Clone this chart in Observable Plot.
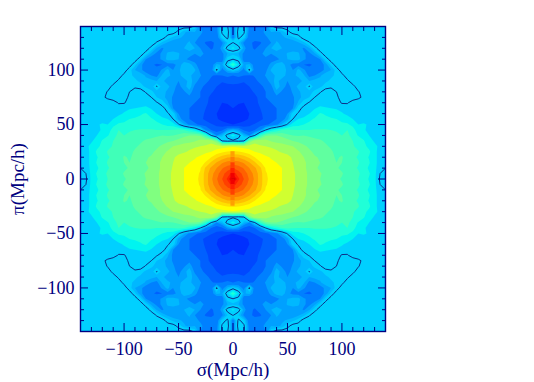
<!DOCTYPE html>
<html><head><meta charset="utf-8">
<script src="https://cdn.jsdelivr.net/npm/d3@7"></script>
<script src="https://cdn.jsdelivr.net/npm/@observablehq/plot@0.6"></script>
<style>html,body{margin:0;background:#fff}svg{display:block}</style>
</head><body><div id="chart"></div>
<script>
const gridStep = 5;
const background = 6.5;
const contourLevel = 6;
const levels = [0,1,2,3,4,4.6,5.2,7,8,9,10,11,12,13,14,15,16,17,18,19,20,21,22,23];
const levelColors = ["#0030ff","#0048ff","#0060ff","#0080ff","#00a0ff","#00b8ff","#00d0ff","#00f4f0","#20ffd8","#40ffb8","#60ffa0","#80ff80","#a0ff60","#d0ff30","#ffff00","#ffe000","#ffc000","#ffa000","#ff8000","#ff6000","#ff4000","#ff2000","#f00000","#a00000"];
// One quadrant: rows pi = 140,135,...,0; columns sigma = 0,5,...,140 (short rows end in the flat background)
const quadrant = [
[3.5,6.1,6.1,3.8,3.4,3.6,4,5.7],
[3.5,6.5,6.2,3.6,3.4,3.7,4.2,4.6,4.4,4.7,5.7],
[3.5,6.3,5.5,3.4,3.2,3.4,3.9,4.2,4.4,4.5,4.7,5,5.6],
[6.1,5.2,3.8,3.1,2.9,2.9,3.4,4,4.7,4.4,4.2,4.2,4.5,5,5.9],
[7.2,6.6,4.4,3.2,2.9,3.3,4,4.6,4.9,4.6,4.1,4,4.3,3.9,4.5,5.7],
[5,4.6,3.8,3.3,3.3,3.8,4.3,4,4.3,4.1,4.7,5,4.7,4.1,3.8,4.4,5.6],
[6,5.6,3.5,3.2,3.5,3.8,3.8,3.7,3.8,4.2,4.6,4.8,4.8,4.2,3.6,3.5,4,5.5],
[8.8,6.8,4.5,4.8,3.5,3.3,3.6,4.2,4.9,5,4.2,3.8,3.7,3,2.9,3.1,3.6,4.2,5.4],
[5.5,4.8,3.6,6.3,3.4,3.3,3.8,4.7,4.7,5.2,4.4,4,4.8,4.2,3.2,3.2,3.6,4.2,4.6,5.5],
[3,3.2,3,2.8,3.1,3.4,4.1,4.2,4.8,4.9,4.4,4.4,4.8,4.7,3.8,4,4.5,5,5,5.4,5.7],
[2.3,2.5,2.2,2.4,2.8,3.2,3.6,4.4,4.8,4.3,4,4,4.2,4.8,4.6,4.8,4.8,5,5.4,5.6,5.6,5.8],
[1.8,1.5,1.4,2,2.4,2.8,3.2,3.8,5,4.3,3.8,4.2,4.8,4.8,6.1,4.7,5,5.6,5.8,5.5,5.4,5.5,5.7],
[1.6,1.4,1.2,1.6,2.2,2.5,3,3.5,4.4,3.9,3.6,4.1,4.4,5,4.8,5.4,5.9,6.5,6.5,6,5.5,5.4,5.5,5.9],
[1.4,1.2,1.2,1.1,1.6,2.5,3,3.2,3.8,3.6,3.6,3.9,4.4,4.8,5.2,6,6.5,6.5,6.5,6.2,5.6,5.4,5.4,5.8,6.2],
[1.3,1.1,1,1.4,1.7,2.2,2.8,3,3.2,3.5,3.3,3.8,4.7,5.6,6.1,6.5,6.5,6.5,6.5,6.4,5.9,5.9],
[1,0.7,0.8,1.2,1.6,2,2.3,2.6,3,3.3,3.6,4,5.6,6.3,6.6,6.9,7.3,7.1,7,6.9,6.7],
[0.6,0.5,0.6,1,1.5,1.9,2.2,2.6,3,3.5,4,5.6,6.1,6.8,7,7.6,8.1,7.9,7.7,7.4,7.1,6.8,6.6],
[0.5,0.5,0.7,1.1,1.4,1.8,2.2,2.6,3,3.6,4.4,6,7,7.1,7.8,8.1,8.2,8.2,8.1,8,7.7,7.4,7,6.8,6.7,6.6],
[1,1.2,1.5,1.8,2.1,2.5,2.8,3.2,3.8,4.8,6.2,7.5,7.6,8,8.2,8.3,8.4,8.4,8.5,8.4,8.2,8.2,7.6,7,7.1,6.9,6.6],
[4.8,4.2,2.8,2.4,3,4,6,7.5,8.3,9,9.2,9.1,9,9,9,9.1,9.1,9.1,9,8.9,8.7,9,8.6,7.2,7.1,6.8,6.6],
[7.4,6.5,5,4,6,9,10.8,11,11,10.8,10.2,10,9.9,10,9.9,9.8,9.7,9.5,9.3,9.2,9,9.2,8.7,7.9,7.5,7,6.7],
[5.8,5.5,5.9,11,12.7,12.6,12.4,11.9,11.6,11.5,11.4,11,10.8,10.5,10.3,10.2,10.1,9.9,9.6,9.4,9.3,9.1,9,8.7,8.1,7.3,6.9,6.6],
[13.8,13.7,13.6,13.5,13.3,13.1,13,12.9,12.8,12.5,12.2,12,11.6,11.2,10.8,10.5,10.2,10.1,9.9,9.6,9.5,9.3,9.1,8.7,8.3,7.7,7.2,6.8],
[15.2,15.1,14.8,14.4,14,13.8,13.5,13.3,13.1,12.9,12.8,12.5,12.1,11.7,11.2,10.8,10.6,10.3,10.1,9.8,9.8,9.4,9.1,9.1,8.4,8.2,7.2,6.7],
[17,16.9,16.4,15.8,15,14.5,14.2,13.9,13.7,13.5,13.2,12.9,12.4,12,11.5,11.1,10.9,10.4,10.2,9.9,10.1,9.5,9.2,8.9,8.5,7.9,7.2,6.7],
[18.5,18.4,17.9,17.1,16.2,15.1,14.6,14.2,14,13.9,13.3,13,12.5,12.2,11.7,11.2,11,10.6,10.3,10,10,9.5,9.2,9.1,8.5,8.1,7.2,6.7],
[20,19.5,18.9,18,17.2,16.2,14.9,14.5,14.2,14,13.5,13.1,12.6,12.2,11.7,11.2,10.8,10.6,10.4,10.1,9.8,9.5,9.3,8.9,8.5,7.8,7.2,6.6,6],
[21.5,20.5,19.6,18.6,17.6,16.5,15.1,14.7,14.3,14,13.6,13.2,12.7,12.3,11.8,11.3,11.1,10.7,10.5,10.2,10.1,9.6,9.3,9.2,8.5,8.1,7.3,6,5.7],
[24,21.2,20,18.9,17.8,16.5,15.2,14.7,14.3,14,13.6,13.2,12.7,12.3,11.8,11.3,11,10.7,10.5,10.2,9.9,9.6,9.3,9,8.5,7.9,7.3,5.8,5.5]
];
// Narrow bright streak along the line of sight
const spikeTops = [5,10,15,20,25];
const spikeValues = [22,21,20,18.5,17];
const majorTicks = [-100,-50,0,50,100];
const minorTicks = [-130,-120,-110,-90,-80,-70,-60,-40,-30,-20,-10,10,20,30,40,60,70,80,90,110,120,130];

const n = quadrant.length;
const size = 2*n-1;
const cell = (r,c) => { const row = quadrant[r]; return c < row.length ? row[c] : background; };
const grid = [];
for (let j=0;j<size;j++) for (let i=0;i<size;i++) grid.push(cell(j<n?j:2*n-2-j, Math.abs(i-(n-1))));
const half = (n-1)*gridStep + gridStep/2;
const gridOpts = {width:size,height:size,x1:-half,x2:half,y1:half,y2:-half,value:d=>d,clip:true};
const spike = [];
spikeTops.forEach((t,i)=>{const b=i?spikeTops[i-1]:0;spike.push({y1:b,y2:t,v:spikeValues[i]},{y1:-t,y2:-b,v:spikeValues[i]});});

const navy = "#000080";
const font = "'Liberation Serif',serif";
const fmt = d=>String(d).replace("-","−");
const chart = Plot.plot({
  width:534,height:382,marginLeft:80,marginRight:149,marginTop:26,marginBottom:51,
  style:{fontFamily:font,fontSize:"18px",color:navy,background:"#fff",overflow:"visible"},
  x:{domain:[-140,140]},y:{domain:[-140,140]},
  color:{type:"threshold",domain:levels.slice(1),range:levelColors},
  marks:[
    Plot.contour(grid,{...gridOpts,thresholds:levels,fill:"value",stroke:"none"}),
    Plot.rect(spike,{x1:()=>-1.9,x2:()=>1.9,y1:"y1",y2:"y2",fill:"v"}),
    Plot.contour(grid,{...gridOpts,thresholds:[contourLevel],fill:"none",stroke:"#101c78",strokeWidth:0.9}),
    Plot.frame({stroke:navy,strokeWidth:1.4}),
    Plot.axisX(majorTicks,{anchor:"bottom",tickSize:0,tickPadding:11,label:null,fill:navy,fontSize:18,tickFormat:fmt}),
    Plot.axisY(majorTicks,{anchor:"left",tickSize:0,tickPadding:6,label:null,fill:navy,fontSize:18,tickFormat:fmt}),
    Plot.axisX({anchor:"bottom",ticks:[],label:"σ(Mpc/h)",labelAnchor:"center",labelOffset:44,labelArrow:"none",fill:navy,fontSize:19,letterSpacing:1.7}),
    Plot.axisY({anchor:"left",ticks:[],label:"π(Mpc/h)",labelAnchor:"center",labelOffset:70,labelArrow:"none",fill:navy,fontSize:19,letterSpacing:1.7}),
    ...["bottom","top"].flatMap(a=>[
      Plot.axisX(majorTicks,{anchor:a,tickSize:-8,text:null,label:null,stroke:navy}),
      Plot.axisX(minorTicks,{anchor:a,tickSize:-4,text:null,label:null,stroke:navy})]),
    ...["left","right"].flatMap(a=>[
      Plot.axisY(majorTicks,{anchor:a,tickSize:-8,text:null,label:null,stroke:navy}),
      Plot.axisY(minorTicks,{anchor:a,tickSize:-4,text:null,label:null,stroke:navy})])
  ]
});
document.getElementById("chart").append(chart);
</script></body></html>
